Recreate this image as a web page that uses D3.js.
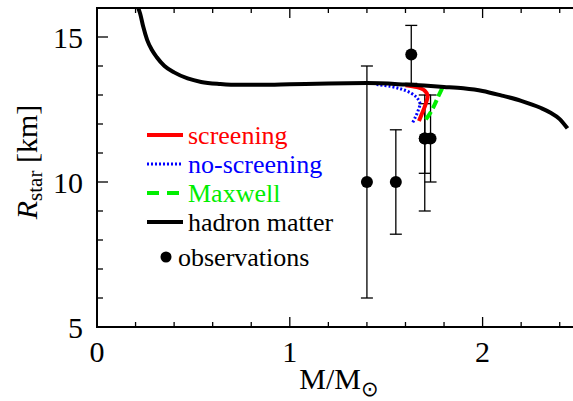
<!DOCTYPE html>
<html><head><meta charset="utf-8">
<script src="https://cdn.jsdelivr.net/npm/d3@7"></script>
</head><body style="margin:0;background:#fff">
<svg id="c" width="573" height="401" style="display:block"></svg>
<script>
// ---- data ----
const hadronM = [0.205,0.214,0.224,0.24,0.26,0.285,0.31,0.35,0.40,0.47,0.54,0.64,0.74,0.85,1.0,1.2,1.4,1.6,1.8,1.9,2.0,2.1,2.2,2.3,2.35,2.4,2.44];
const hadronR = [16.2,16.0,15.8,15.35,14.9,14.55,14.3,14.0,13.78,13.57,13.45,13.38,13.35,13.35,13.37,13.40,13.41,13.36,13.28,13.23,13.14,12.98,12.80,12.56,12.40,12.17,11.85];
const screenM = [1.60,1.66,1.70,1.715,1.71,1.70,1.685,1.67];
const screenR = [13.34,13.27,13.15,12.98,12.80,12.60,12.35,12.10];
const noScreenM = [1.45,1.52,1.58,1.63,1.66,1.675,1.665,1.65,1.635];
const noScreenR = [13.36,13.30,13.20,13.06,12.90,12.72,12.45,12.22,12.02];
const maxwellM = [1.79,1.77,1.75,1.73,1.70];
const maxwellR = [13.23,12.95,12.65,12.40,12.10];
const obsM  = [1.40,1.55,1.63,1.70,1.70,1.73];
const obsR  = [10.0,10.0,14.4,11.5,11.5,11.5];
const obsLo = [6.0,8.2,13.4,9.0,10.3,10.0];
const obsHi = [14.0,11.8,15.4,13.0,12.7,13.0];
const xTicks = [0,1,2];
const yTicks = [5,10,15];
const legendLabels = ["screening","no-screening","Maxwell","hadron matter","observations"];

// ---- layout ----
const FONT = "Liberation Serif";
const svg = d3.select("#c");
const x = d3.scaleLinear().domain([0,2.5]).range([97,579]);
const y = d3.scaleLinear().domain([5,16]).range([327,8]);
const X0=97, X1=579, Y0=327, Y1=8;

function txt(sel, size){
  return sel.append("text").attr("font-family",FONT).style("font-family",'"Liberation Serif", "Times New Roman", serif').attr("font-size",size);
}

svg.append("clipPath").attr("id","clip").append("rect")
  .attr("x",X0).attr("y",Y1).attr("width",X1-X0).attr("height",Y0-Y1);

// ticks
const g = svg.append("g");
const xMinor = d3.range(0,2.51,0.2);
xMinor.forEach(v=>{
  const major = xTicks.some(t=>Math.abs(t-v)<1e-6);
  const L = major?10:5;
  g.append("line").attr("x1",x(v)).attr("x2",x(v)).attr("y1",Y0).attr("y2",Y0-L).attr("stroke","#000").attr("stroke-width",1.3);
  g.append("line").attr("x1",x(v)).attr("x2",x(v)).attr("y1",Y1).attr("y2",Y1+L).attr("stroke","#000").attr("stroke-width",1.3);
});
d3.range(5,16.01,1).forEach(v=>{
  const major = yTicks.includes(v);
  const L = major?11:6;
  g.append("line").attr("x1",X0).attr("x2",X0+L).attr("y1",y(v)).attr("y2",y(v)).attr("stroke","#000").attr("stroke-width",1.3);
});
// frame
svg.append("rect").attr("x",X0).attr("y",Y1).attr("width",X1-X0).attr("height",Y0-Y1)
  .attr("fill","none").attr("stroke","#000").attr("stroke-width",2);

// tick labels
xTicks.forEach(t=>txt(svg,30).attr("x",x(t)).attr("y",362).attr("text-anchor","middle").text(t));
yTicks.forEach(t=>txt(svg,30).attr("x",83).attr("y",y(t)+11).attr("text-anchor","end").text(t));

// axis titles
const xl = txt(svg,30).attr("x",339).attr("y",389).attr("text-anchor","middle");
xl.append("tspan").text("M/M");
xl.append("tspan").attr("font-size",21).attr("dy",7).style("font-family",'"DejaVu Sans"').text("⊙");
const yl = txt(svg,30).attr("transform","translate(37,162) rotate(-90)").attr("text-anchor","middle");
yl.append("tspan").attr("font-style","italic").text("R");
yl.append("tspan").attr("font-size",21).attr("dy",5).text("star");
yl.append("tspan").attr("dy",-5).text(" [km]");

// plot content
const pg = svg.append("g").attr("clip-path","url(#clip)");
obsM.forEach((m,i)=>{
  pg.append("line").attr("x1",x(m)).attr("x2",x(m)).attr("y1",y(obsLo[i])).attr("y2",y(obsHi[i])).attr("stroke","#000").attr("stroke-width",1.3);
  [obsLo[i],obsHi[i]].forEach(v=>pg.append("line").attr("x1",x(m)-6).attr("x2",x(m)+6).attr("y1",y(v)).attr("y2",y(v)).attr("stroke","#000").attr("stroke-width",1.3));
  pg.append("circle").attr("cx",x(m)).attr("cy",y(obsR[i])).attr("r",6).attr("fill","#000");
});
const line = d3.line().x(d=>x(d[0])).y(d=>y(d[1])).curve(d3.curveCatmullRom);
const lineMono = d3.line().x(d=>x(d[0])).y(d=>y(d[1])).curve(d3.curveMonotoneX);
const zip = (a,b)=>a.map((v,i)=>[v,b[i]]);
pg.append("path").attr("d",line(zip(noScreenM,noScreenR))).attr("fill","none").attr("stroke","#0000ff").attr("stroke-width",3).attr("stroke-dasharray","2,2");
pg.append("path").attr("d",line(zip(maxwellM,maxwellR))).attr("fill","none").attr("stroke","#00ee00").attr("stroke-width",4).attr("stroke-dasharray","9,4");
pg.append("path").attr("d",line(zip(screenM,screenR))).attr("fill","none").attr("stroke","#ff0000").attr("stroke-width",4);
pg.append("path").attr("d",lineMono(zip(hadronM,hadronR))).attr("fill","none").attr("stroke","#000").attr("stroke-width",4);

// legend
const lg = svg.append("g");
const styles = [
  {c:"#ff0000",w:4,d:null},
  {c:"#0000ff",w:3,d:"2,2"},
  {c:"#00ee00",w:4,d:"12,8"},
  {c:"#000",w:4,d:null}
];
const textColors = ["#ff0000","#0000ff","#00ee00","#000","#000"];
const rowY = [135,164,193,222,257];
styles.forEach((s,i)=>{
  const l = lg.append("line").attr("x1",147).attr("x2",183).attr("y1",rowY[i]).attr("y2",rowY[i]).attr("stroke",s.c).attr("stroke-width",s.w);
  if(s.d) l.attr("stroke-dasharray",s.d);
});
lg.append("circle").attr("cx",166).attr("cy",rowY[4]).attr("r",5.5).attr("fill","#000");
legendLabels.forEach((t,i)=>{
  txt(lg,26).attr("x",i===4?178:188).attr("y",rowY[i]+9).attr("fill",textColors[i]).text(t);
});
</script></body></html>
